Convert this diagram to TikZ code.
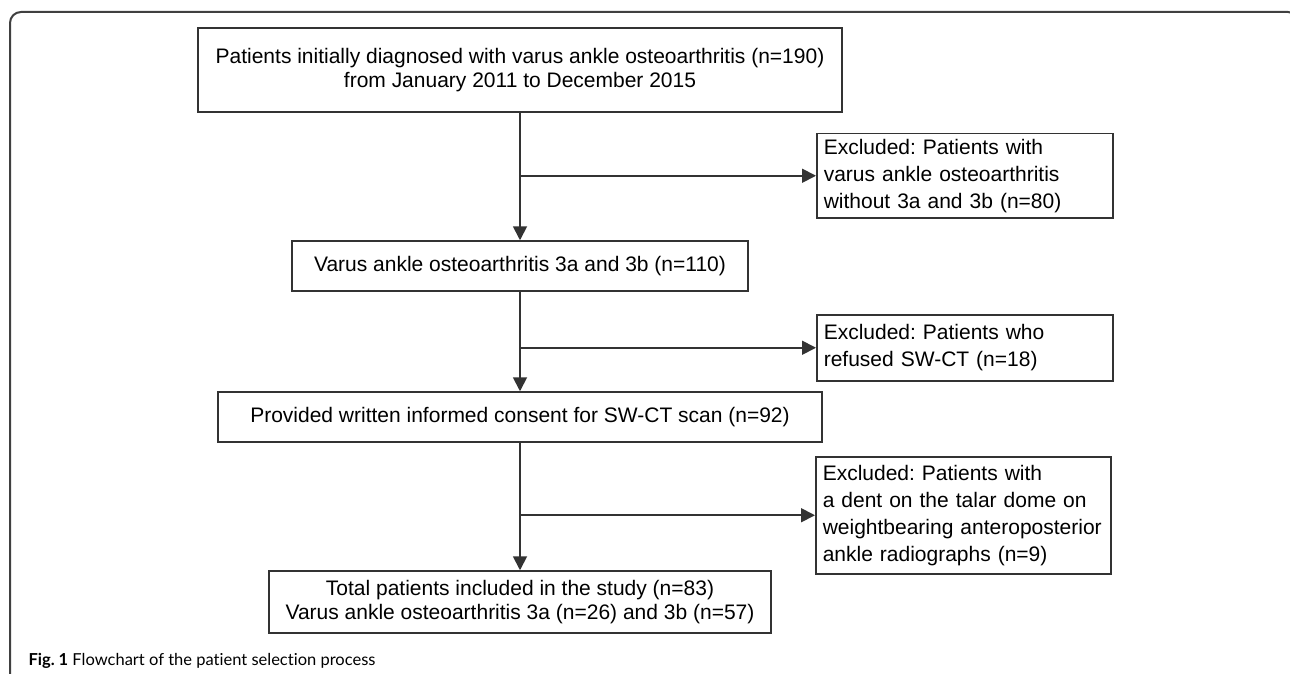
\documentclass[tikz,border=0pt]{standalone}
\usepackage{fontspec}
\setmainfont{Liberation Sans}
\newfontfamily\capfont[Ligatures=NoCommon]{Lato}
\usetikzlibrary{arrows.meta, calc, positioning}
\frenchspacing
\tikzset{
  flowbox/.style ={draw=black!80, line width=1.5pt, inner sep=0pt, align=center, font=\fontsize{21}{24}\selectfont},
  exclbox/.style ={draw=black!80, line width=1.5pt, anchor=north west, align=left, text width=282pt,
                   inner xsep=7pt, inner ysep=0pt, font=\fontsize{21}{27}\selectfont},
  flow/.style    ={-{Triangle[length=14pt, width=14pt]}, line width=1.8pt, black!80},   % main and side arrows
  frame/.style   ={line width=2pt, black!75, rounded corners=11pt},
  capt/.style    ={anchor=base west, font=\capfont\fontsize{16.5}{20}\selectfont},
}

\begin{document}
\begin{tikzpicture}[x=1pt, y=-1pt]
  \useasboundingbox (0,0) rectangle (1290,674);
  \clip (0,0) rectangle (1290,674);
  \draw[frame] (10,690) -- (10,12) -- (1299,12) -- (1299,690);

  % main column
  \node[flowbox, minimum width=644pt, minimum height=84pt] (initial) at (520,70)
    {Patients initially diagnosed with varus ankle osteoarthritis (n=190)\\from January 2011 to December 2015};
  \node[flowbox, minimum width=456pt, minimum height=50pt] (varus) at (520,266)
    {Varus ankle osteoarthritis 3a and 3b (n=110)};
  \node[flowbox, minimum width=604pt, minimum height=50pt] (consent) at (520,417)
    {Provided written informed consent for SW-CT scan (n=92)};
  \node[flowbox, minimum width=502pt, minimum height=62pt] (total) at (520,602)
    {Total patients included in the study (n=83)\\Varus ankle osteoarthritis 3a (n=26) and 3b (n=57)};

  % exclusions
  \node[exclbox, minimum height=84pt] (exclA) at (816,133)
    {Excluded: Patients with\\varus ankle osteoarthritis\\without 3a and 3b (n=80)};
  \node[exclbox, minimum height=66pt] (exclB) at (816,314)
    {Excluded: Patients who\\refused SW-CT (n=18)};
  \node[exclbox, minimum height=117pt, text width=281pt] (exclC) at (815,456)
    {Excluded: Patients with\\a dent on the talar dome on\\weightbearing anteroposterior\\ankle radiographs (n=9)};

  \draw[flow] (initial) -- (varus);
  \draw[flow] (varus) -- (consent);
  \draw[flow] (consent) -- (total);
  \draw[flow] (exclA.west -| initial.south) -- (exclA.west);
  \draw[flow] (exclB.west -| varus.south) -- (exclB.west);
  \draw[flow] (exclC.west -| consent.south) -- (exclC.west);

  \node[capt] (caption) at (25,665) {\textbf{Fig. 1} Flowchart of the patient selection process};
\end{tikzpicture}
\end{document}
